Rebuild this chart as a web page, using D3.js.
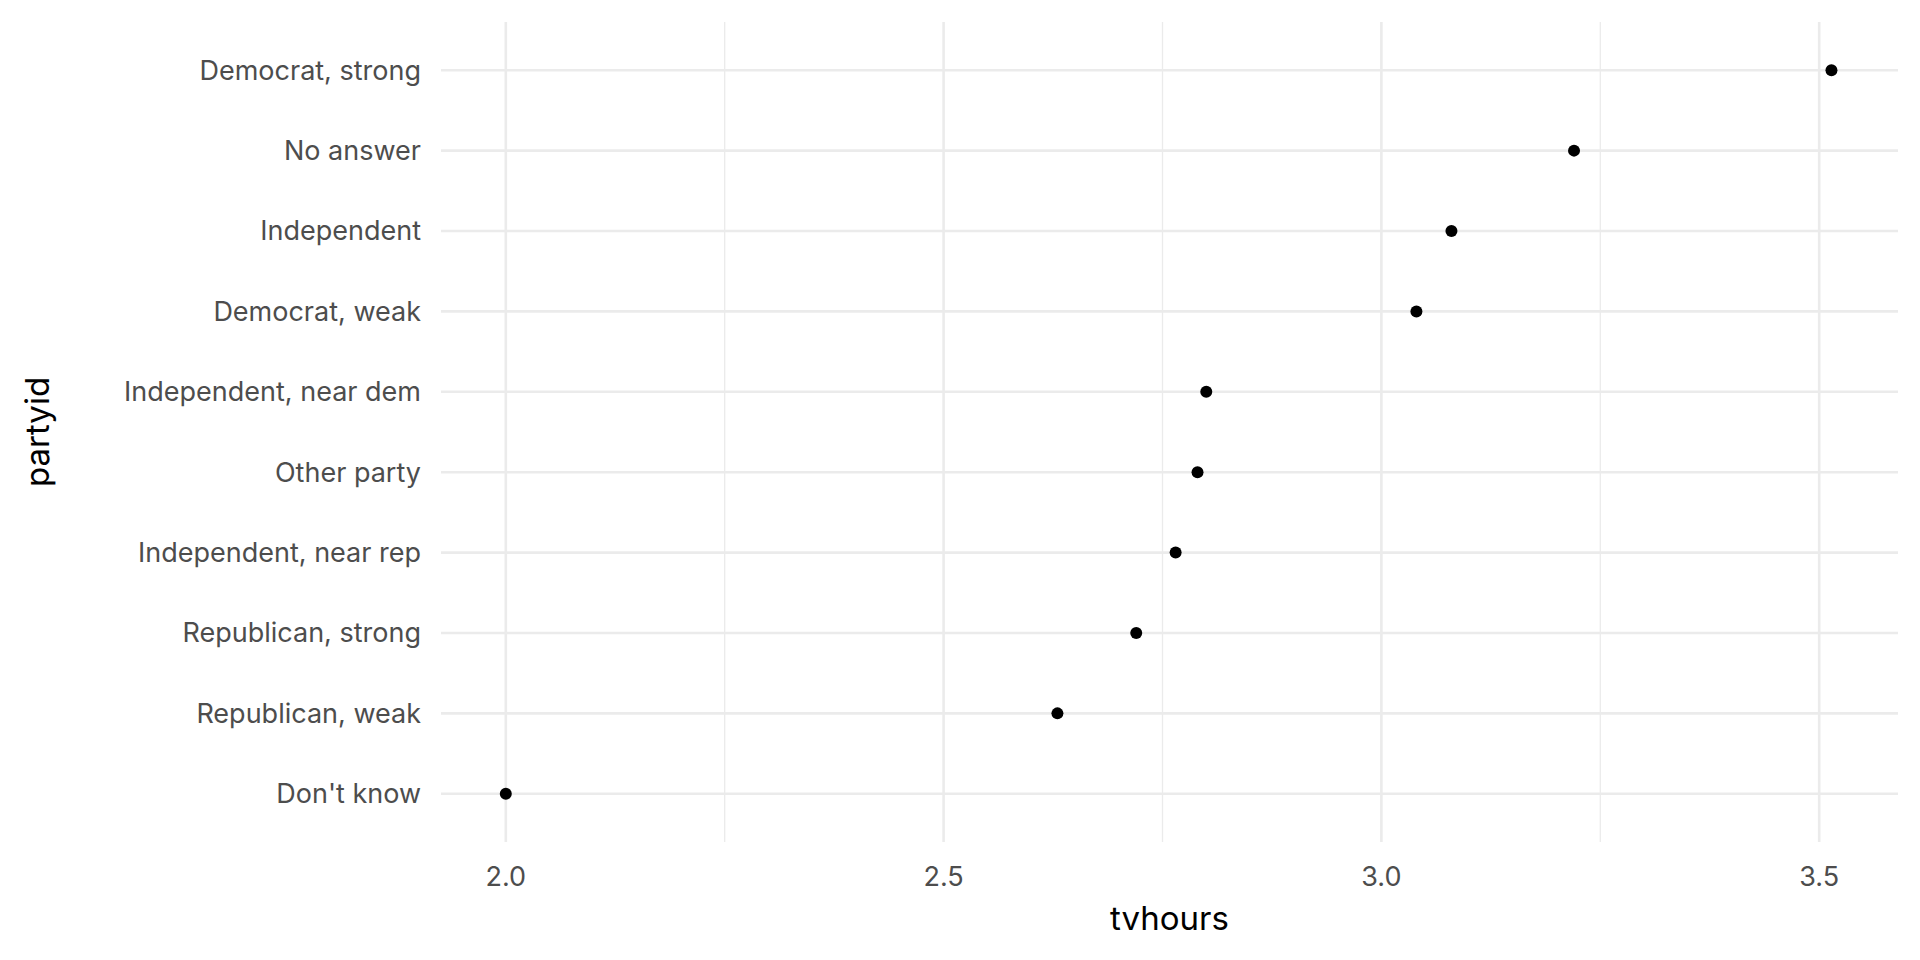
<!DOCTYPE html>
<html>
<head>
<meta charset="utf-8">
<script src="https://cdn.jsdelivr.net/npm/d3@7"></script>
<style>body{margin:0;background:#fff;} text{font-family:Inter,"Noto Sans",sans-serif;}</style>
</head>
<body>
<div id="chart"></div>
<script>
const parties = ["Democrat, strong", "No answer", "Independent", "Democrat, weak", "Independent, near dem",
  "Other party", "Independent, near rep", "Republican, strong", "Republican, weak", "Don't know"];
const tvhours = [3.514, 3.22, 3.08, 3.04, 2.80, 2.79, 2.765, 2.72, 2.63, 2.0];
const majorTicks = [2.0, 2.5, 3.0, 3.5];
const minorTicks = [2.25, 2.75, 3.25];

const width = 1920, height = 960;
const pLeft = 441, pRight = 1898, pTop = 22, pBottom = 842;

const svg = d3.select('#chart').append('svg').attr('width', width).attr('height', height);

const x = d3.scaleLinear().domain([1.926, 3.59]).range([pLeft, pRight]);
const y = d3.scalePoint().domain(parties).range([pTop, pBottom]).padding(0.6);

// grid
svg.append('g').selectAll('line').data(minorTicks).join('line')
  .attr('x1', d => x(d)).attr('x2', d => x(d)).attr('y1', pTop).attr('y2', pBottom)
  .attr('stroke', '#ebebeb').attr('stroke-width', 1.3);
svg.append('g').selectAll('line').data(majorTicks).join('line')
  .attr('x1', d => x(d)).attr('x2', d => x(d)).attr('y1', pTop).attr('y2', pBottom)
  .attr('stroke', '#ebebeb').attr('stroke-width', 2.6);
svg.append('g').selectAll('line').data(parties).join('line')
  .attr('x1', pLeft).attr('x2', pRight).attr('y1', d => y(d)).attr('y2', d => y(d))
  .attr('stroke', '#ebebeb').attr('stroke-width', 2.6);

// axes labels
svg.append('g').selectAll('text').data(parties).join('text')
  .attr('x', pLeft - 20).attr('y', d => y(d)).attr('dy', '0.35em')
  .attr('text-anchor', 'end').attr('font-size', 27).attr('fill', '#4d4d4d').text(d => d);
svg.append('g').selectAll('text').data(majorTicks).join('text')
  .attr('x', d => x(d)).attr('y', 877).attr('dy', '0.35em')
  .attr('text-anchor', 'middle').attr('font-size', 27).attr('fill', '#4d4d4d').text(d => d.toFixed(1));

svg.append('text').attr('x', (pLeft + pRight) / 2).attr('y', 918).attr('dy', '0.35em')
  .attr('text-anchor', 'middle').attr('font-size', 33).text('tvhours');
svg.append('text').attr('transform', `translate(37,${(pTop + pBottom) / 2}) rotate(-90)`).attr('dy', '0.35em')
  .attr('text-anchor', 'middle').attr('font-size', 33).text('partyid');

// points
svg.append('g').selectAll('circle').data(parties).join('circle')
  .attr('cx', (d, i) => x(tvhours[i])).attr('cy', d => y(d)).attr('r', 6).attr('fill', '#000');
</script>
</body>
</html>
